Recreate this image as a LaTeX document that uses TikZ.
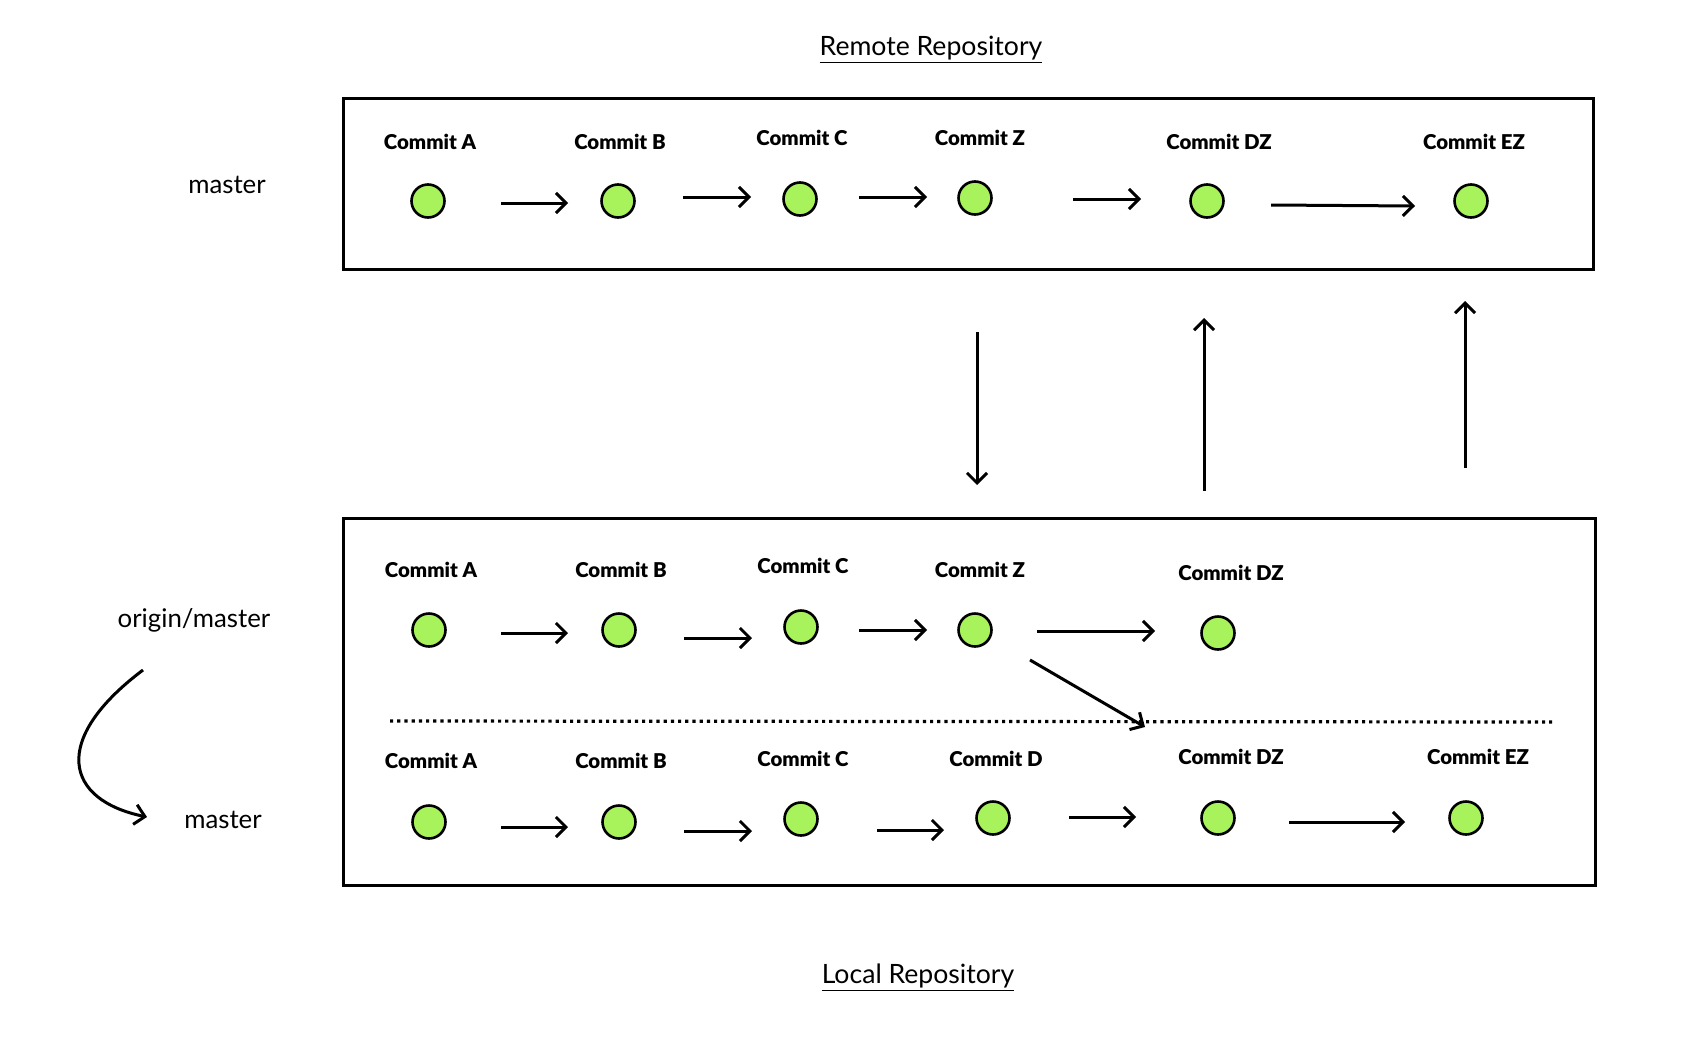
\documentclass[tikz,border=0pt]{standalone}
\usepackage{fontspec}
\setmainfont{Lato}
\newfontfamily\commitfont{Lato Black}
\usetikzlibrary{arrows.meta}
\definecolor{cgreen}{RGB}{168,242,92}
\tikzset{
  commit/.style={circle,draw=black,line width=1.3pt,fill=cgreen,minimum size=16.5pt,inner sep=0pt},
  clabel/.style={font=\commitfont\fontsize{10.2}{11}\selectfont,inner sep=0pt},
  branch/.style={font=\fontsize{12.9}{14}\selectfont,inner sep=0pt},
  title/.style={font=\fontsize{13.3}{15}\selectfont,inner sep=0pt},
  repo/.style={draw=black,line width=1.5pt},
  conn/.style={line width=1.5pt,-{Straight Barb[length=5pt,width=10pt,line width=1.5pt]}},
  sep/.style={line width=1.6pt,dash pattern=on 1.6pt off 2pt}
}
\begin{document}
\begin{tikzpicture}[x=0.5pt,y=-0.5pt]
\useasboundingbox (0,0) rectangle (1708,1050);
\fill[white] (0,0) rectangle (1708,1050);

% titles
\node[title] (remote) at (931,50) {\underline{Remote Repository}};
\node[title] (local) at (918,978) {\underline{Local Repository}};

% boxes
\draw[repo] (343,98) rectangle (1593,269);
\draw[repo] (343,518) rectangle (1595,885);

% branch labels
\node[branch] (lmaster) at (227,185) {master};
\node[branch] (origin) at (194,620) {origin/master};
\node[branch] (bmaster) at (223,820) {master};

% ---- remote row
\node[commit] (rA) at (428,201) {};
\node[commit] (rB) at (618,201) {};
\node[commit] (rC) at (800,199) {};
\node[commit] (rZ) at (975,198) {};
\node[commit] (rDZ) at (1207,201) {};
\node[commit] (rEZ) at (1471,201) {};
\node[clabel] (trA) at (430,142) {Commit A};
\node[clabel] (trB) at (620,142) {Commit B};
\node[clabel] (trC) at (802,138) {Commit C};
\node[clabel] (trZ) at (980,138) {Commit Z};
\node[clabel] (trDZ) at (1219,142) {Commit DZ};
\node[clabel] (trEZ) at (1474,142) {Commit EZ};

\coordinate (r1s) at (501,203); \coordinate (r1e) at (568,203);
\coordinate (r2s) at (683,197); \coordinate (r2e) at (751,197);
\coordinate (r3s) at (859,197); \coordinate (r3e) at (927,197);
\coordinate (r4s) at (1073,199); \coordinate (r4e) at (1141,199);
\coordinate (r5s) at (1271,205); \coordinate (r5e) at (1415,206);
\draw[conn] (r1s) -- (r1e);
\draw[conn] (r2s) -- (r2e);
\draw[conn] (r3s) -- (r3e);
\draw[conn] (r4s) -- (r4e);
\draw[conn] (r5s) -- (r5e);

% ---- vertical arrows
\coordinate (v1s) at (977,332); \coordinate (v1e) at (977,485);
\coordinate (v2s) at (1204,491); \coordinate (v2e) at (1204,318);
\coordinate (v3s) at (1465,468); \coordinate (v3e) at (1465,301);
\draw[conn] (v1s) -- (v1e);
\draw[conn] (v2s) -- (v2e);
\draw[conn] (v3s) -- (v3e);

% ---- local origin/master row
\node[commit] (oA) at (429,630) {};
\node[commit] (oB) at (619,630) {};
\node[commit] (oC) at (801,627) {};
\node[commit] (oZ) at (975,630) {};
\node[commit] (oDZ) at (1218,633) {};
\node[clabel] (toA) at (431,570) {Commit A};
\node[clabel] (toB) at (621,570) {Commit B};
\node[clabel] (toC) at (803,566) {Commit C};
\node[clabel] (toZ) at (980,570) {Commit Z};
\node[clabel] (toDZ) at (1231,573) {Commit DZ};

\coordinate (o1s) at (501,633); \coordinate (o1e) at (568,633);
\coordinate (o2s) at (684,638); \coordinate (o2e) at (752,638);
\coordinate (o3s) at (859,630); \coordinate (o3e) at (927,630);
\coordinate (o4s) at (1037,631); \coordinate (o4e) at (1155,631);
\coordinate (o5s) at (1030,660); \coordinate (o5e) at (1145,727);
\draw[conn] (o1s) -- (o1e);
\draw[conn] (o2s) -- (o2e);
\draw[conn] (o3s) -- (o3e);
\draw[conn] (o4s) -- (o4e);
\draw[conn] (o5s) -- (o5e);

% dotted separator
\coordinate (d1) at (390,721); \coordinate (d2) at (1552,722);
\draw[sep] (d1) -- (d2);

% ---- local master row
\node[commit] (mA) at (429,822) {};
\node[commit] (mB) at (619,822) {};
\node[commit] (mC) at (801,819) {};
\node[commit] (mD) at (993,818) {};
\node[commit] (mDZ) at (1218,818) {};
\node[commit] (mEZ) at (1466,818) {};
\node[clabel] (tmA) at (431,761) {Commit A};
\node[clabel] (tmB) at (621,761) {Commit B};
\node[clabel] (tmC) at (803,759) {Commit C};
\node[clabel] (tmD) at (996,759) {Commit D};
\node[clabel] (tmDZ) at (1231,757) {Commit DZ};
\node[clabel] (tmEZ) at (1478,757) {Commit EZ};

\coordinate (m1s) at (501,827); \coordinate (m1e) at (568,827);
\coordinate (m2s) at (684,831); \coordinate (m2e) at (752,831);
\coordinate (m3s) at (877,830); \coordinate (m3e) at (944,830);
\coordinate (m4s) at (1069,817); \coordinate (m4e) at (1136,817);
\coordinate (m5s) at (1289,822); \coordinate (m5e) at (1405,822);
\draw[conn] (m1s) -- (m1e);
\draw[conn] (m2s) -- (m2e);
\draw[conn] (m3s) -- (m3e);
\draw[conn] (m4s) -- (m4e);
\draw[conn] (m5s) -- (m5e);

% curved arrow origin/master -> master
\coordinate (cs) at (143,670); \coordinate (ce) at (147,817);
\draw[conn] (cs) .. controls (50,740) and (65,800) .. (ce);
\end{tikzpicture}
\end{document}
